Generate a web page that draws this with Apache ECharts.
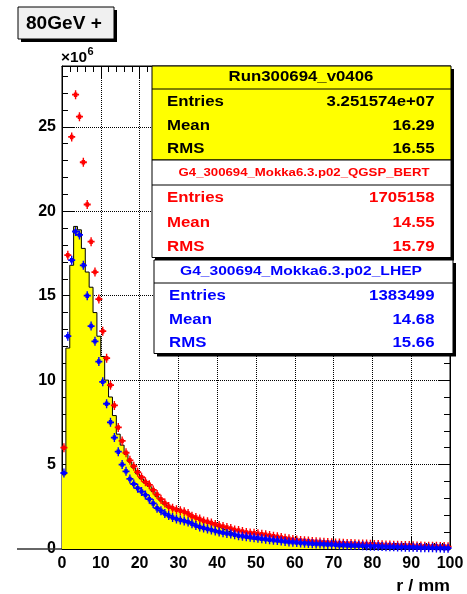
<!DOCTYPE html>
<html><head><meta charset="utf-8">
<script src="https://cdn.jsdelivr.net/npm/echarts@6/dist/echarts.min.js"></script>
<style>html,body{margin:0;padding:0;background:#fff}#c{width:467px;height:594px}</style>
</head><body><div id="c"></div>
<script>
// ---- data (values in units of 10^6 per 1 mm bin, bins 0..100 mm) ----
const binLow = 0, binWidth = 1;
const dataCounts = [
 4.4, 11.9, 16.8, 19.1, 18.9, 17.8, 16.4, 15.5, 14.0, 12.6,
 11.4, 10.0, 9.0, 7.9, 6.8, 6.15, 5.6, 5.15, 4.8, 4.45,
 4.15, 3.9, 3.7, 3.4, 3.1, 2.85, 2.62, 2.45, 2.36, 2.28,
 2.22, 2.15, 2.04, 1.9, 1.82, 1.72, 1.62, 1.55, 1.45, 1.35,
 1.25, 1.15, 1.05, 0.96, 0.86, 0.75, 0.7, 0.64, 0.6, 0.57,
 0.55, 0.53, 0.51, 0.49, 0.46, 0.42, 0.41, 0.40, 0.39, 0.38,
 0.37, 0.36, 0.35, 0.34, 0.26, 0.25, 0.24, 0.24, 0.23, 0.22,
 0.13, 0.13, 0.13, 0.12, 0.12, 0.12, 0.12, 0.12, 0, 0,
 0, 0, 0, 0, 0, 0, 0, 0, 0, 0,
 0, 0, 0, 0, 0, 0, 0, 0, 0, 0
];
const bertCounts = [
 6.0, 17.4, 24.4, 26.9, 25.6, 22.9, 20.4, 18.2, 16.4, 14.8,
 12.9, 11.3, 9.7, 8.5, 7.2, 6.4, 5.7, 5.25, 4.9, 4.55,
 4.25, 3.98, 3.8, 3.5, 3.22, 2.95, 2.72, 2.52, 2.42, 2.33,
 2.27, 2.21, 2.1, 1.94, 1.86, 1.77, 1.66, 1.62, 1.54, 1.45,
 1.39, 1.33, 1.27, 1.22, 1.13, 1.09, 1.04, 0.98, 0.95, 0.93,
 0.9, 0.88, 0.84, 0.8, 0.76, 0.72, 0.68, 0.64, 0.6, 0.56,
 0.53, 0.51, 0.49, 0.47, 0.45, 0.43, 0.42, 0.4, 0.39, 0.37,
 0.36, 0.35, 0.34, 0.33, 0.32, 0.31, 0.3, 0.3, 0.29, 0.28,
 0.27, 0.26, 0.25, 0.24, 0.23, 0.22, 0.22, 0.21, 0.2, 0.2,
 0.19, 0.18, 0.18, 0.17, 0.17, 0.16, 0.16, 0.15, 0.15, 0.14
];
const lhepCounts = [
 4.5, 12.6, 17.1, 18.8, 18.6, 16.8, 15.0, 13.2, 12.3, 11.1,
 9.9, 8.6, 7.5, 6.6, 5.76, 5.0, 4.6, 4.15, 3.85, 3.6,
 3.4, 3.2, 2.95, 2.7, 2.42, 2.27, 2.1, 1.98, 1.86, 1.78,
 1.72, 1.66, 1.6, 1.5, 1.39, 1.3, 1.24, 1.18, 1.13, 1.07,
 1.01, 0.96, 0.92, 0.89, 0.85, 0.79, 0.76, 0.72, 0.69, 0.66,
 0.63, 0.61, 0.58, 0.55, 0.52, 0.5, 0.47, 0.45, 0.42, 0.4,
 0.38, 0.36, 0.34, 0.33, 0.31, 0.3, 0.29, 0.28, 0.27, 0.26,
 0.25, 0.24, 0.23, 0.22, 0.21, 0.2, 0.2, 0.19, 0.18, 0.17,
 0.17, 0.16, 0.15, 0.14, 0.14, 0.13, 0.12, 0.12, 0.11, 0.1,
 0.1, 0.09, 0.08, 0.08, 0.07, 0.07, 0.06, 0.06, 0.05, 0.05
];
const statTitles  = ['Run300694_v0406', 'G4_300694_Mokka6.3.p02_QGSP_BERT', 'G4_300694_Mokka6.3.p02_LHEP'];
const statEntries = ['3.251574e+07', '1705158', '1383499'];
const statMeans   = ['16.29', '14.55', '14.68'];
const statRMS     = ['16.55', '15.79', '15.66'];
const statRowNames = ['Entries', 'Mean', 'RMS'];
const padLabel = '80GeV +';
const xTitle = 'r / mm';
const yExponent = '6';

// ---- build series data ----
const histPts = dataCounts.map((v, i) => [binLow + i * binWidth, v]);
histPts.push([binLow + dataCounts.length * binWidth, dataCounts[dataCounts.length - 1]]);
const bertPts = bertCounts.map((v, i) => [binLow + (i + 0.5) * binWidth, v]);
const lhepPts = lhepCounts.map((v, i) => [binLow + (i + 0.5) * binWidth, v]);

const FF = '"Liberation Sans", Arial, Helvetica, sans-serif';
const marker = 'path://M4,0H6V2.5H7.5V4H10V6H7.5V7.5H6V10H4V7.5H2.5V6H0V4H2.5V2.5H4Z';

// ---- stat boxes (decoration) ----
const boxes = [
  {x:152, y:66,  w:299, h:94,  fill:'#ffff00', color:'#000000', div:89,  tx:301, ty:77.5, tsize:14, rows:[102.5,126,149.5]},
  {x:152, y:160, w:299, h:97.5, fill:'#ffffff', color:'#ff0000', div:185, tx:304, ty:172.5, tsize:11, rows:[198.5,223,247]},
  {x:154, y:260, w:299, h:93.5, fill:'#ffffff', color:'#0000ff', div:283, tx:301, ty:271, tsize:13, rows:[296,320,343.5]}
];
const g = [];
function txt(x, y, s, size, color, align, sx) {
  return {type:'text', x:x, y:y, scaleX:sx || 1.2, z:100,
    style:{text:s, x:0, y:0, fill:color, font:'bold ' + size + 'px ' + FF, align:align, verticalAlign:'middle'}};
}
boxes.forEach((b, k) => {
  g.push({type:'rect', z:90, shape:{x:b.x + 3, y:b.y + 3, width:b.w, height:b.h}, style:{fill:'#000'}});
});
boxes.forEach((b, k) => {
  g.push({type:'rect', z:91, shape:{x:b.x, y:b.y, width:b.w, height:b.h}, style:{fill:b.fill, stroke:'#000', lineWidth:1}});
  g.push({type:'line', z:92, shape:{x1:b.x, y1:b.div, x2:b.x + b.w, y2:b.div}, style:{stroke:'#000', lineWidth:1}});
  g.push(txt(b.tx, b.ty, statTitles[k], b.tsize, k === 0 ? '#000' : b.color, 'center'));
  const vals = [statEntries[k], statMeans[k], statRMS[k]];
  b.rows.forEach((ry, r) => {
    g.push(txt(b.x + 15, ry, statRowNames[r], 14, b.color, 'left'));
    g.push(txt(434.5, ry, vals[r], 14, b.color, 'right'));
  });
});
// pad label box
g.push({type:'rect', z:90, shape:{x:21, y:10, width:96, height:32}, style:{fill:'#000'}});
g.push({type:'rect', z:91, shape:{x:18, y:7, width:96, height:32}, style:{fill:'#f0f0f0', stroke:'#000', lineWidth:1}});
g.push(txt(26, 24, padLabel, 18, '#000', 'left', 1.06));
// exponent
g.push(txt(61, 58.5, '\u00d710', 14, '#000', 'left', 1.1));
g.push(txt(87.5, 52, yExponent, 10, '#000', 'left', 1.1));
// axis title
g.push(txt(450, 587, xTitle, 16, '#000', 'right', 1.12));
// baseline stub
g.push({type:'line', z:5, shape:{x1:17, y1:549, x2:62, y2:549}, style:{stroke:'#333', lineWidth:1.3}});

const labelStyle = {fontSize:16, fontWeight:'bold', color:'#000', fontFamily:FF};
const blk = {color:'#000', width:1};
const YMAX = 28.6;

const option = {
  animation:false,
  backgroundColor:'#fff',
  grid:{left:62, top:66, width:388, height:483, show:true, borderColor:'#000', borderWidth:1, backgroundColor:'transparent'},
  xAxis:[
    {type:'value', min:0, max:100, interval:10, position:'bottom',
     axisLine:{show:true, onZero:false, lineStyle:blk},
     axisTick:{show:true, inside:true, length:12, lineStyle:blk},
     minorTick:{show:true, splitNumber:5, length:6, lineStyle:blk},
     axisLabel:Object.assign({margin:7}, labelStyle),
     splitLine:{show:true, lineStyle:{color:'#000', type:'dotted', width:1}}},
    {type:'value', min:0, max:100, interval:10, position:'top',
     axisLine:{show:true, onZero:false, lineStyle:blk},
     axisTick:{show:true, inside:true, length:12, lineStyle:blk},
     minorTick:{show:true, splitNumber:5, length:6, lineStyle:blk},
     axisLabel:{show:false}, splitLine:{show:false}}
  ],
  yAxis:[
    {type:'value', min:0, max:YMAX, interval:5, position:'left',
     axisLine:{show:true, lineStyle:blk},
     axisTick:{show:true, inside:true, length:12, lineStyle:blk},
     axisLabel:Object.assign({margin:6, showMaxLabel:false}, labelStyle),
     splitLine:{show:true, lineStyle:{color:'#000', type:'dotted', width:1}}},
    {type:'value', min:0, max:YMAX, interval:1, position:'left',
     axisLine:{show:false}, axisTick:{show:true, inside:true, length:6, lineStyle:blk},
     axisLabel:{show:false}, splitLine:{show:false}},
    {type:'value', min:0, max:YMAX, interval:5, position:'right',
     axisLine:{show:true, lineStyle:blk}, axisTick:{show:true, inside:true, length:12, lineStyle:blk},
     axisLabel:{show:false}, splitLine:{show:false}},
    {type:'value', min:0, max:YMAX, interval:1, position:'right',
     axisLine:{show:false}, axisTick:{show:true, inside:true, length:6, lineStyle:blk},
     axisLabel:{show:false}, splitLine:{show:false}}
  ],
  series:[
    {name:statTitles[0], type:'line', data:histPts, step:'end', symbol:'none',
     lineStyle:{color:'#000', width:1}, areaStyle:{color:'#ffff00', opacity:1}, z:2},
    {name:statTitles[1], type:'scatter', data:bertPts, symbol:marker, symbolSize:[7,9],
     itemStyle:{color:'#ff0000', opacity:1}, z:3},
    {name:statTitles[2], type:'scatter', data:lhepPts, symbol:marker, symbolSize:[7,9],
     itemStyle:{color:'#0000ff', opacity:1}, z:4}
  ],
  graphic:{elements:g}
};
echarts.init(document.getElementById('c')).setOption(option);
</script>
</body></html>
